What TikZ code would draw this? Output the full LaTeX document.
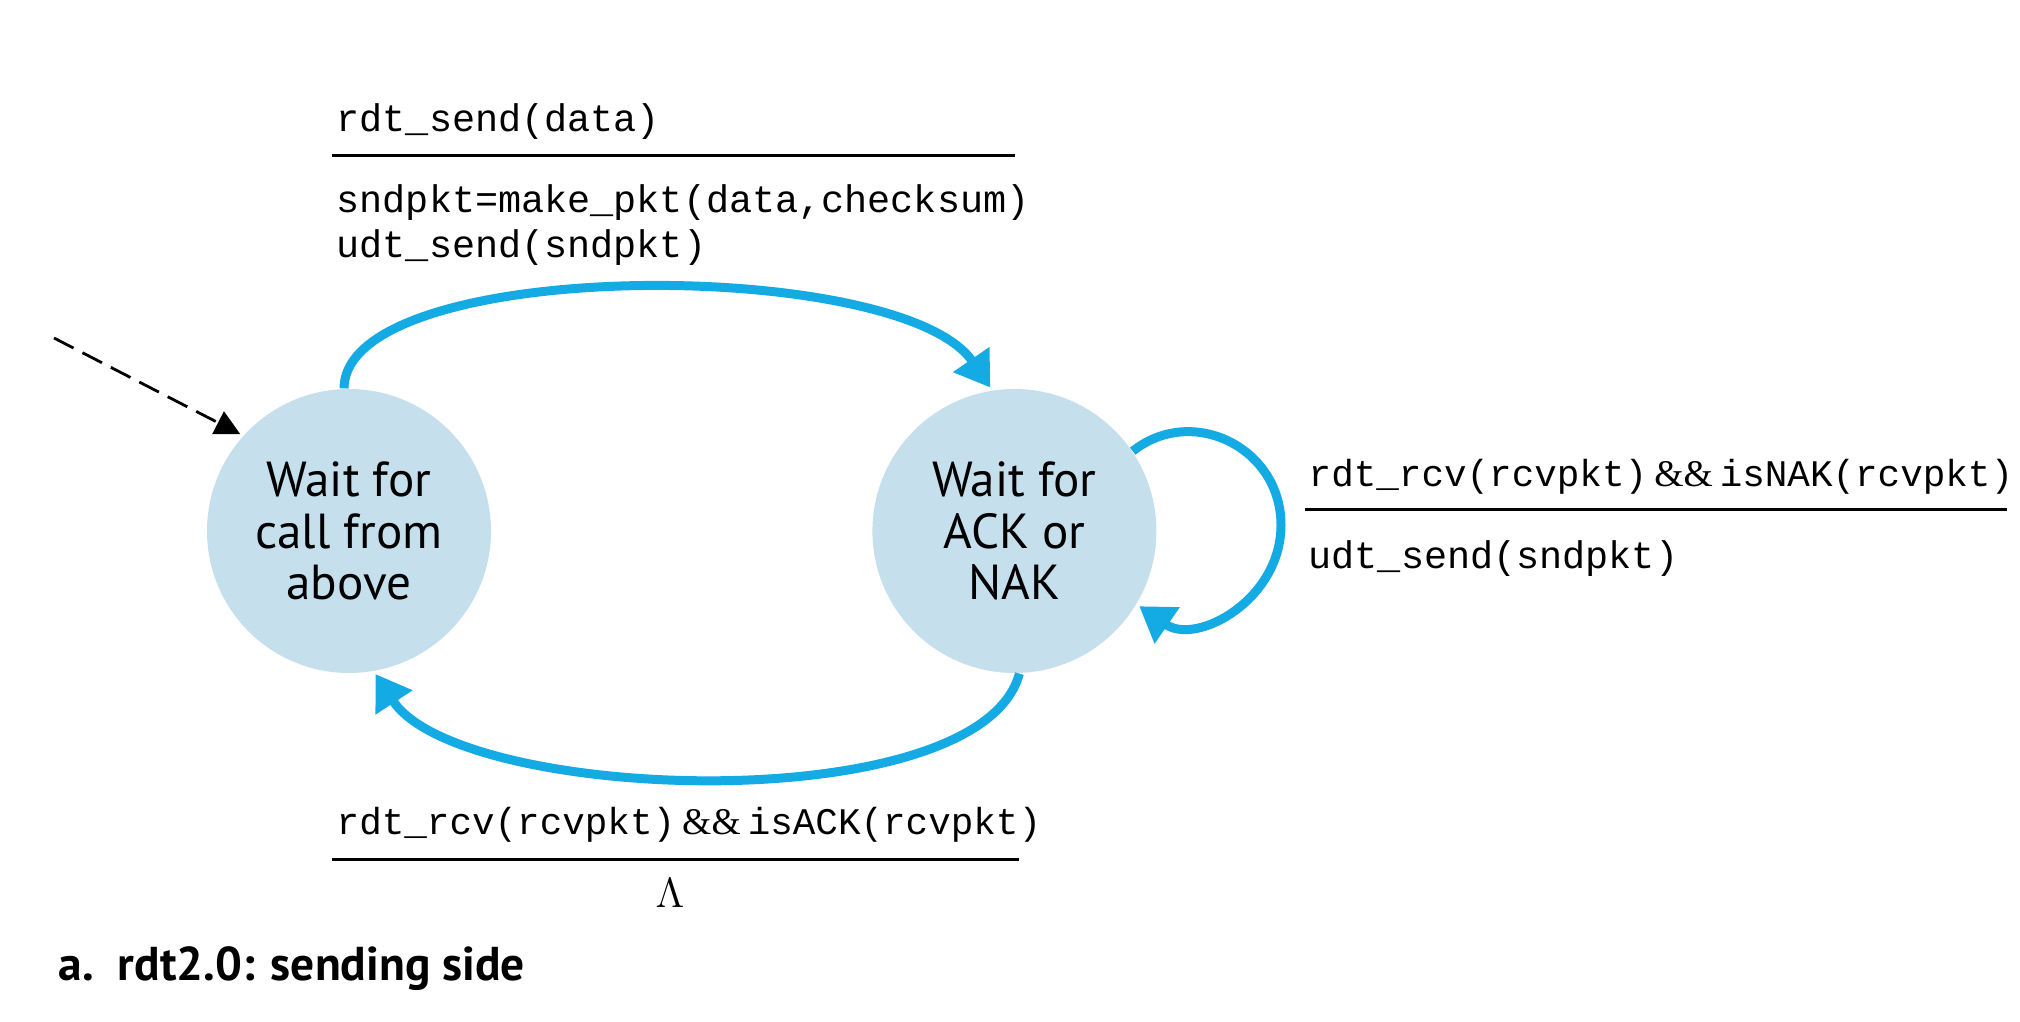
\documentclass[tikz,border=0pt]{standalone}
\usepackage{fontspec}
\setmainfont{PT Sans}
\newfontfamily\codefont{Liberation Mono}
\newfontfamily\ampfont{Liberation Serif}
\usetikzlibrary{arrows.meta,positioning}
\definecolor{statefill}{RGB}{197,223,236}
\definecolor{edgeblue}{RGB}{20,170,228}

\begin{document}
\begin{tikzpicture}[>={Triangle[length=3.4mm,width=4.2mm]}, shorten >=0.3mm]
  \tikzstyle{state} = [circle, fill=statefill, minimum size=2.84cm, inner sep=0pt, align=center, font=\fontsize{14}{14.6}\selectfont]
  \tikzstyle{edge} = [->, color=edgeblue, line width=0.9mm]
  \tikzstyle{code} = [anchor=west, inner sep=0pt, align=left, font=\codefont\fontsize{10.95}{12.8}\selectfont]
  \tikzstyle{guard} = [code, font=\codefont\fontsize{10.7}{12.8}\selectfont]
  \tikzstyle{rule} = [line width=0.3mm]
  \useasboundingbox (0,0) rectangle (20.2,10.21);
  \node[state] (callwait) at (3.49,4.90) {Wait for\\call from\\above};
  \node[state, right=3.80cm of callwait] (ackwait) {Wait for\\ACK or\\NAK};
  \coordinate (init) at (0.54,6.83);
  \coordinate (loopright) at (12.81,4.96);
  \draw[dash pattern=on 2.2mm off 1mm, ->, >={Triangle[length=2.5mm,width=2.5mm]}, line width=0.28mm] (init) -- (callwait.138);
  \draw[edge] (callwait.92) .. controls (3.45,7.65) and (9.0,7.65) .. (ackwait.99);
  \draw[edge] (ackwait.-88) .. controls (9.8,2.0) and (4.6,2.18) .. (callwait.-80);
  \draw[edge] (ackwait.34) .. controls (11.92,6.17) and (12.81,5.735) .. (loopright)
    .. controls (12.81,4.215) and (11.97,3.75) .. (ackwait.-31);
  \node[code] (sendev) at (3.36,8.99) {rdt\_send(data)};
  \draw[rule] (3.32,8.65) -- (10.18,8.65);
  \node[code] (sendact) at (3.36,7.955) {sndpkt=make\_pkt(data,checksum)\\udt\_send(sndpkt)};
  \node[guard] (nakev) at (13.08,5.44) {rdt\_rcv(rcvpkt)\kern2pt{\ampfont\&\&}\kern2pt isNAK(rcvpkt)};
  \draw[rule] (13.05,5.12) -- (20.10,5.12);
  \node[code] (nakact) at (13.08,4.62) {udt\_send(sndpkt)};
  \node[guard] (ackev) at (3.36,1.96) {rdt\_rcv(rcvpkt)\kern2pt{\ampfont\&\&}\kern2pt isACK(rcvpkt)};
  \draw[rule] (3.32,1.62) -- (10.22,1.62);
  \node[font=\fontsize{12}{14}\selectfont] (ackact) at (6.70,1.28) {$\Lambda$};
  \node[anchor=west, inner sep=0pt, font=\bfseries\fontsize{13.5}{16}\selectfont] (caption) at (0.58,0.52) {a.\ \ rdt2.0: sending side};
\end{tikzpicture}
\end{document}
